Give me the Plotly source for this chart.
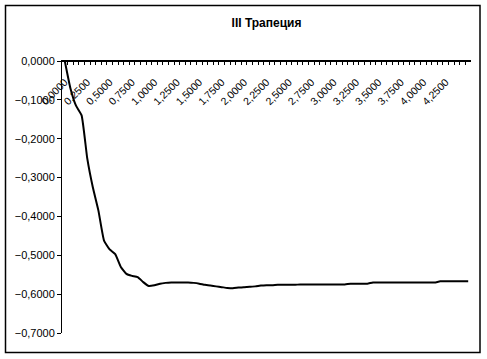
import plotly.graph_objects as go

# categories: step 0.0625 from 0 to 4.5
x_vals = [round(0.0625 * i, 4) for i in range(73)]

y_vals = [
    0.000, -0.070, -0.115, -0.140, -0.250, -0.325, -0.385, -0.462, -0.485, -0.497,
    -0.530, -0.548, -0.553, -0.556, -0.569, -0.579, -0.577, -0.573, -0.571, -0.570,
    -0.570, -0.570, -0.570, -0.571, -0.573, -0.576, -0.578, -0.580, -0.582, -0.584,
    -0.585, -0.583, -0.582, -0.581, -0.580, -0.578, -0.577, -0.577, -0.576, -0.576,
    -0.576, -0.576, -0.575, -0.575, -0.575, -0.575, -0.575, -0.575, -0.575, -0.575,
    -0.575, -0.573, -0.573, -0.573, -0.573, -0.570, -0.570, -0.570, -0.570, -0.570,
    -0.570, -0.570, -0.570, -0.570, -0.570, -0.570, -0.570, -0.567, -0.567, -0.567,
    -0.567, -0.567, -0.567,
]

x_tick_vals = [0.0, 0.25, 0.5, 0.75, 1.0, 1.25, 1.5, 1.75, 2.0, 2.25, 2.5, 2.75,
               3.0, 3.25, 3.5, 3.75, 4.0, 4.25]
y_tick_vals = [0.0, -0.1, -0.2, -0.3, -0.4, -0.5, -0.6, -0.7]

title_text = "III Трапеция"

font_family = "Liberation Sans, Arial, sans-serif"

x_range = [-0.03125, 4.53125]

fig = go.Figure()
fig.add_trace(go.Scatter(
    x=x_vals, y=y_vals, mode="lines",
    line=dict(color="black", width=2, shape="spline", smoothing=0.4),
    hoverinfo="skip", showlegend=False,
))
# invisible trace carrying the tick-mark axis (ticks between categories)
fig.add_trace(go.Scatter(
    x=[x_vals[0]], y=[y_vals[0]], xaxis="x2", yaxis="y", mode="markers",
    marker=dict(opacity=0), hoverinfo="skip", showlegend=False,
))

W, H = 487, 359
L, R, T, B = 62, 16, 61, 26
pw, ph = W - L - R, H - T - B

def px_x(p):
    return (p - L) / pw

def px_y(p):
    return (H - B - p) / ph

fig.update_layout(
    width=W, height=H,
    margin=dict(l=L, r=R, t=T, b=B, pad=0),
    paper_bgcolor="white", plot_bgcolor="white",
    separators=", ",
    font=dict(family=font_family, size=11, color="black"),
    title=dict(text="<b>" + title_text + "</b>", x=0.5, xref="paper",
               y=1 - 23 / H, yanchor="middle",
               font=dict(family=font_family, size=12, color="black")),
    xaxis=dict(
        range=x_range,
        anchor="free", position=1, side="bottom",
        tickmode="array", tickvals=x_tick_vals, tickformat=".4f",
        tickangle=-45, ticks="", showgrid=False, zeroline=False,
        ticklabelstandoff=10,
        showline=True, linecolor="black", linewidth=1,
        tickfont=dict(family=font_family, size=10.5, color="black"),
    ),
    xaxis2=dict(
        range=x_range, overlaying="x",
        anchor="y", side="top",
        tickmode="linear", tick0=-0.03125, dtick=0.0625,
        ticks="inside", ticklen=4, tickcolor="black", tickwidth=1,
        showticklabels=False, showgrid=False, zeroline=False,
        showline=True, linecolor="black", linewidth=1,
    ),
    yaxis=dict(
        range=[-0.7, 0], tickmode="array", tickvals=y_tick_vals, tickformat=".4f",
        ticks="outside", ticklen=4, tickcolor="black", tickwidth=1,
        showgrid=False, zeroline=False,
        showline=True, linecolor="black", linewidth=1,
        tickfont=dict(family=font_family, size=11, color="black"),
    ),
    shapes=[dict(type="rect", xref="paper", yref="paper",
                 x0=px_x(5.5), x1=px_x(480), y0=px_y(352.5), y1=px_y(5.5),
                 line=dict(color="black", width=1.5), layer="above")],
)

fig.write_html(
    "out.html",
    config={"displayModeBar": False, "staticPlot": True},
    post_script="document.body.style.margin='0';document.body.style.padding='0';",
)
